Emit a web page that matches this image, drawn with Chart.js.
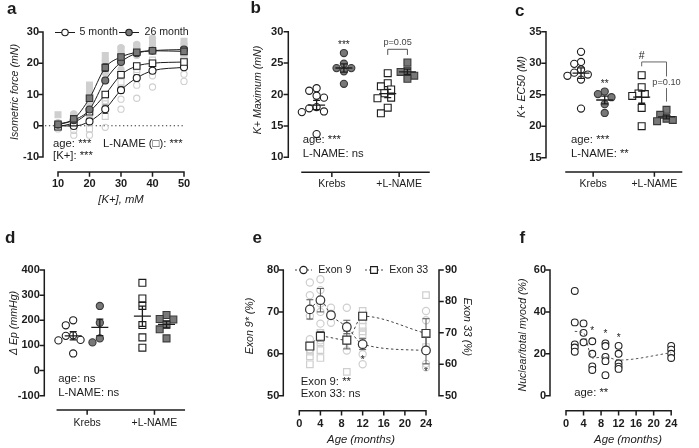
<!DOCTYPE html>
<html>
<head>
<meta charset="utf-8">
<title>Figure</title>
<script src="https://cdn.jsdelivr.net/npm/chart.js@4.4.1/dist/chart.umd.min.js"></script>
<style>
  html, body { margin: 0; padding: 0; background: #ffffff; }
  #fig { position: relative; width: 699px; height: 448px; overflow: hidden; background: #fff; }
  #fig canvas { position: absolute; left: 0; top: 0; }
</style>
</head>
<body>
<div id="fig">
  <canvas id="pa" width="699" height="448"></canvas>
  <canvas id="pb" width="699" height="448"></canvas>
  <canvas id="pc" width="699" height="448"></canvas>
  <canvas id="pd" width="699" height="448"></canvas>
  <canvas id="pe" width="699" height="448"></canvas>
  <canvas id="pf" width="699" height="448"></canvas>
</div>
<script>
// ================= DATA =================
// panel a : K+ concentration-response (means, SEM, individual points)
const aConc = [10, 15, 20, 25, 30, 35, 40, 50];
const a5Krebs = [0, -0.1, 1.4, 5.3, 11.4, 15.3, 17.6, 18.7];
const a5KrebsSem = [0.3, 0.3, 0.5, 1.3, 1.0, 1.0, 0.8, 0.6];
const a5LName = [-0.3, 1.0, 4.5, 10.0, 16.3, 19.1, 20.0, 20.4];
const a5LNameSem = [0.3, 0.4, 0.7, 0.9, 1.0, 0.8, 0.6, 0.6];
const a26Krebs = [0.3, 1.8, 5.2, 14.5, 20.4, 23.2, 24.0, 24.4];
const a26KrebsSem = [0.3, 0.5, 0.8, 1.0, 0.8, 0.6, 0.5, 0.6];
const a26LName = [0.5, 2.2, 8.8, 18.6, 22.0, 23.5, 24.0, 23.8];
const a26LNameSem = [0.3, 0.5, 0.9, 1.2, 0.8, 0.6, 0.6, 0.6];
const a26LNamePts = [[3.5], [3.3, 2.7], [13, 11], [22.5, 20], [24.5, 23], [25.5, 24.5], [27, 26], [27, 25.5]];
const a26KrebsPts = [[1.0], [3.8], [7, 10], [17, 21], [18, 25], [26, 22.5], [25.5, 28], [25, 23]];
const a5KrebsPts = [[-1, 0.5], [-1.5, -3], [-3, 3], [-0.5, 8], [5.3, 8.5], [8.8, 13], [12.4, 16], [14.2, 16.5]];
const a5LNamePts = [[-0.6], [0.6], [-1, 2], [3, 7], [14, 12], [17, 18], [20, 21], [21, 22]];

// panel b : K+ maximum (mN)
const bKrebs5 = [21.0, 20.6, 19.8, 19.5, 18.0, 17.8, 17.3, 17.2, 13.7];
const bKrebs26 = [26.6, 24.9, 24.2, 24.2, 23.7, 21.7];
const bLName5 = [23.4, 21.8, 21.3, 20.8, 20.2, 19.5, 19.4, 17.9, 17.0];
const bLName26 = [25.1, 23.8, 23.6, 23.0, 22.5];

// panel c : K+ EC50
const cKrebs5 = [31.8, 30.2, 29.9, 29.0, 28.5, 28.2, 28.0, 27.4, 22.8];
const cKrebs26 = [25.5, 25.1, 24.6, 23.5, 22.1];
const cLName5 = [28.1, 26.2, 25.2, 25.1, 24.8, 22.9, 20.0];
const cLName26 = [22.6, 21.8, 21.2, 21.0, 20.8];

// panel d : delta Ep (mmHg)
const dKrebs5 = [200, 180, 140, 138, 122, 120, 68];
const dKrebs26 = [257, 190, 128, 112];
const dLName5 = [349, 287, 257, 181, 132, 91];
const dLName26 = [221, 205, 203, 182, 164, 128];

// panel e : exon inclusion vs age
const eMonths = [2, 4, 6, 9, 12, 24];
const eExon9 = [70.6, 72.8, 69.2, 66.4, 62.3, 60.8];
const eExon9Sem = [2.3, 2.8, 0.8, 1.6, 1.3, 3.2];
const eMonths33 = [2, 4, 9, 12, 24];
const eExon33 = [65.8, 68.9, 67.7, 75.3, 69.8];
const eExon33Sem = [0.8, 1.5, 2.8, 1.0, 4.7];
const eExon9Pts = [[77, 74, 69, 63.5, 61], [77.8, 75.2, 72, 70, 67.2, 65, 63.2], [71, 69.6, 67.4], [71, 64, 63, 60.8], [62, 59.9, 57.5], [70.2, 68, 57.6, 56.8]];
const eExon33Pts = [[66, 64, 62.5, 60], [70, 67, 64.5, 62], [72, 57.6], [77, 75.5, 74, 72, 70.5, 69.5], [82, 70, 65.5]];

// panel f : nuclear / total myocd
const fMonths = [2, 4, 6, 9, 12, 24];
const fPoints = [[50, 35, 24.5, 23, 21], [34.5, 30, 25.5], [26, 20, 14, 12.3], [25, 23.7, 18.5, 16.5, 9.8], [23.8, 20, 15.5, 13.9, 12.8], [23.8, 22, 20, 18]];
const fMeans = [30.7, 30, 18, 18.5, 17, 20.5];

// labels
const catLabels = ['Krebs', '+L-NAME'];
const aLegend = ['5 month', '26 month'];
const eLegend = ['Exon 9', 'Exon 33'];

// ================= STYLE / LAYOUT =================
const W = 699, H = 448;
const YW = 50, RW = 45, XH = 40;   // scale box sizes
const FONT = '"Liberation Sans", Arial, "DejaVu Sans", sans-serif';
const INK = '#1c1c1c';
const DARK = '#787878';
const LIGHT = '#cfcfcf';
const CLEAR = 'rgba(255,255,255,0)';
const TICK = { family: FONT, size: 11, weight: 'bold' };
const CAT = { family: FONT, size: 10.5 };
const CIRC = 'circle', SQ = 'rect';

const A = { l: 58, t: 32, r: 184, b: 157 };
const B = { l: 302, t: 31.7, r: 429, b: 157.3 };
const C = { l: 566, t: 31.7, r: 691.7, b: 157.7 };
const D = { l: 57.3, t: 270, r: 184.3, b: 395.7 };
const E = { l: 299.3, t: 270, r: 426, b: 395.7, right: true };
const F = { l: 566, t: 270, r: 691.7, b: 395.7 };
const catTicks = [2.35, 7.65];
const bPos = [1.15, 3.3, 6.75, 8.3];
const cPos = [1.3, 3.35, 6.55, 8.7];
const dPos = [1.25, 3.35, 6.7, 8.6];

// ================= HELPERS =================
function mean(a) { return a.reduce((s, v) => s + v, 0) / a.length; }
function sem(a) {
  const m = mean(a);
  return Math.sqrt(a.reduce((s, v) => s + (v - m) * (v - m), 0) / (a.length - 1)) / Math.sqrt(a.length);
}
function pts(xs, ys) { return xs.map((x, i) => ({ x, y: ys[i] })); }
function nested(xs, arr) { return arr.flatMap((g, i) => g.map(v => ({ x: xs[i], y: v }))); }
function swarm(vals, cx, area, xRange, yRange, diam) {
  const xppu = (area.r - area.l) / xRange, yppu = (area.b - area.t) / yRange;
  const order = vals.map((v, i) => i).sort((p, q) => vals[q] - vals[p]);
  const placed = [], out = new Array(vals.length);
  for (const i of order) {
    const py = vals[i] * yppu;
    let off = 0;
    for (let k = 0; k < 40; k++) {
      off = k === 0 ? 0 : (k % 2 ? -1 : 1) * Math.ceil(k / 2) * diam * 0.45;
      if (placed.every(p => (p.x - off) ** 2 + (p.y - py) ** 2 >= diam * diam * 0.8)) break;
    }
    placed.push({ x: off, y: py });
    out[i] = { x: cx + off / xppu, y: vals[i] };
  }
  return out;
}
function ds(data, style, r, fill, extra) {
  return Object.assign({
    data, pointStyle: style, pointRadius: r, pointHoverRadius: r,
    pointBackgroundColor: fill, pointBorderColor: INK, pointBorderWidth: 1.1,
    borderColor: INK, borderWidth: 1, showLine: false, tension: 0.4,
    cubicInterpolationMode: 'monotone', clip: false
  }, extra || {});
}
function fontStr(size, weight, style) { return (style || 'normal') + ' ' + (weight || 'normal') + ' ' + size + 'px ' + FONT; }
function text(ctx, s, x, y, o) {
  o = o || {};
  ctx.save();
  ctx.font = fontStr(o.size || 11.3, o.weight, o.style);
  ctx.fillStyle = o.color || INK;
  ctx.textAlign = o.align || 'left';
  ctx.textBaseline = o.base || 'middle';
  ctx.translate(x, y);
  if (o.rot) ctx.rotate(o.rot);
  ctx.fillText(s, 0, 0);
  ctx.restore();
}
function stars(ctx, s, x, y, size) {
  size = size || 10;
  text(ctx, s, x, y + 0.58 * size, { size, align: 'center', base: 'alphabetic' });
}
function letter(ctx, s, x, y) { text(ctx, s, x, y, { size: 17, weight: 'bold', base: 'alphabetic' }); }
function ytitle(ctx, s, x, y, rot) { text(ctx, s, x, y, { size: 10.6, style: 'italic', align: 'center', rot: rot || -Math.PI / 2 }); }
function xtitle(ctx, s, x, y) { text(ctx, s, x, y, { size: 11.3, style: 'italic', align: 'center' }); }
function marker(ctx, style, x, y, r, fill, stroke, lw) {
  ctx.save(); ctx.beginPath();
  if (style === SQ) { const s = r * Math.SQRT1_2; ctx.rect(x - s, y - s, 2 * s, 2 * s); }
  else ctx.arc(x, y, r, 0, Math.PI * 2);
  ctx.fillStyle = fill; ctx.fill(); ctx.lineWidth = lw; ctx.strokeStyle = stroke; ctx.stroke();
  ctx.restore();
}
function legendItem(ctx, x0, x1, y, style, r, fill, dash, color) {
  ctx.save(); ctx.strokeStyle = color || INK; ctx.lineWidth = 1;
  if (dash) ctx.setLineDash(dash);
  ctx.beginPath(); ctx.moveTo(x0, y); ctx.lineTo(x1, y); ctx.stroke(); ctx.restore();
  marker(ctx, style, (x0 + x1) / 2, y, r, fill, INK, 1.1);
}
function seg(ctx, pairs, lw, color) {
  ctx.save(); ctx.strokeStyle = color || INK; ctx.lineWidth = lw || 1; ctx.beginPath();
  pairs.forEach(p => { ctx.moveTo(p[0], p[1]); ctx.lineTo(p[2], p[3]); });
  ctx.stroke(); ctx.restore();
}
function drawAxes(c, ctx, o) {
  const xs = c.scales.x, ys = c.scales.y, ca = c.chartArea;
  ctx.save();
  ctx.strokeStyle = INK; ctx.lineWidth = 1.5; ctx.lineCap = 'square';
  ctx.beginPath();
  const yx = ca.left - o.yGap;
  ctx.moveTo(yx, ys.getPixelForValue(ys.max)); ctx.lineTo(yx, ys.getPixelForValue(ys.min));
  ys.ticks.forEach(t => { const p = ys.getPixelForValue(t.value); ctx.moveTo(yx, p); ctx.lineTo(yx - 4, p); });
  if (o.rId) {
    const rs = c.scales[o.rId], rx = ca.right + o.rGap;
    ctx.moveTo(rx, rs.getPixelForValue(rs.max)); ctx.lineTo(rx, rs.getPixelForValue(rs.min));
    rs.ticks.forEach(t => { const p = rs.getPixelForValue(t.value); ctx.moveTo(rx, p); ctx.lineTo(rx + 4, p); });
  }
  const xy = ca.bottom + o.xGap;
  ctx.moveTo(xs.getPixelForValue(xs.min), xy); ctx.lineTo(xs.getPixelForValue(xs.max), xy);
  xs.ticks.forEach(t => { const p = xs.getPixelForValue(t.value); ctx.moveTo(p, xy); ctx.lineTo(p, xy + 4); });
  ctx.stroke(); ctx.restore();
}
function errBars(c, ctx, i) {
  const d = c.data.datasets[i];
  if (!d.errs) return;
  const meta = c.getDatasetMeta(i);
  const xs = c.scales[meta.xAxisID], ys = c.scales[meta.yAxisID];
  const cap = d.capW || 2.6;
  ctx.save(); ctx.strokeStyle = d.errColor || INK; ctx.lineWidth = 1; ctx.beginPath();
  d.data.forEach((p, k) => {
    const e = d.errs[k], px = xs.getPixelForValue(p.x);
    const y1 = ys.getPixelForValue(p.y + e), y2 = ys.getPixelForValue(p.y - e);
    ctx.moveTo(px, y1); ctx.lineTo(px, y2);
    ctx.moveTo(px - cap, y1); ctx.lineTo(px + cap, y1);
    ctx.moveTo(px - cap, y2); ctx.lineTo(px + cap, y2);
  });
  ctx.stroke(); ctx.restore();
}
function meanBar(c, ctx, cx, vals) {
  const xs = c.scales.x, ys = c.scales.y;
  const m = mean(vals), e = sem(vals), px = xs.getPixelForValue(cx);
  const pm = ys.getPixelForValue(m), pu = ys.getPixelForValue(m + e), pd = ys.getPixelForValue(m - e);
  seg(ctx, [[px - 8.5, pm, px + 8.5, pm], [px, pu, px, pd], [px - 3.5, pu, px + 3.5, pu], [px - 3.5, pd, px + 3.5, pd]], 1.3);
}
function xLinear(min, max, step, pad, font) {
  return {
    type: 'linear', position: 'bottom', min, max,
    afterFit(s) { s.height = XH; },
    grid: { display: false, drawTicks: false }, border: { display: false },
    ticks: { stepSize: step, padding: pad, font: font || TICK, color: INK, autoSkip: false, maxRotation: 0, minRotation: 0 }
  };
}
function xGroups(pad) {
  const s = xLinear(0, 10, 1, pad, CAT);
  s.afterBuildTicks = sc => { sc.ticks = catTicks.map(v => ({ value: v })); };
  s.ticks.callback = (v, i) => catLabels[i];
  return s;
}
function yLinear(min, max, step, pad, position) {
  const right = position === 'right';
  return {
    type: 'linear', position: position || 'left', min, max,
    afterFit(s) { s.width = right ? RW : YW; },
    grid: { display: false, drawTicks: false }, border: { display: false },
    ticks: { stepSize: step, padding: pad, font: TICK, color: INK }
  };
}
function makeChart(id, area, scales, datasets, hooks) {
  hooks = hooks || {};
  return new Chart(document.getElementById(id), {
    type: 'scatter',
    data: { datasets },
    options: {
      responsive: false, maintainAspectRatio: false, animation: false, events: [],
      layout: { autoPadding: false, padding: {
        left: area.l - YW, top: area.t,
        right: W - area.r - (area.right ? RW : 0), bottom: H - area.b - XH } },
      scales,
      plugins: { legend: { display: false }, tooltip: { enabled: false } }
    },
    plugins: [{
      id: 'deco_' + id,
      beforeDatasetsDraw(c) { if (hooks.under) hooks.under(c, c.ctx); },
      beforeDatasetDraw(c, args) { errBars(c, c.ctx, args.index); },
      afterDatasetsDraw(c) { if (hooks.over) hooks.over(c, c.ctx); }
    }]
  });
}
function groupSets(sets, pos, area, yRange) {
  const styles = [[CIRC, '#fff'], [CIRC, DARK], [SQ, '#fff'], [SQ, DARK]];
  return sets.map((v, i) => {
    const st = styles[i];
    const r = st[0] === CIRC ? 3.6 : 4.9;
    return ds(swarm(v, pos[i], area, 10, yRange, st[0] === CIRC ? 8.2 : 7.6), st[0], r, st[1], { pointBorderColor: st[1] === DARK ? '#3a3a3a' : INK });
  });
}

// ================= PANEL a =================
makeChart('pa', A, { x: xLinear(10, 50, 10, 20.4), y: yLinear(-10, 30, 10, 19) }, [
  ds(pts(aConc, a26LName), SQ, 4.6, DARK, { showLine: true, errs: a26LNameSem, pointBorderColor: '#333' }),
  ds(pts(aConc, a26Krebs), CIRC, 3.5, DARK, { showLine: true, errs: a26KrebsSem, pointBorderColor: '#333' }),
  ds(pts(aConc, a5LName), SQ, 4.6, '#fff', { showLine: true, errs: a5LNameSem }),
  ds(pts(aConc, a5Krebs), CIRC, 3.5, '#fff', { showLine: true, errs: a5KrebsSem }),
  ds(nested(aConc, a26LNamePts), SQ, 4.2, LIGHT, { pointBorderColor: LIGHT }),
  ds(nested(aConc, a26KrebsPts), CIRC, 3.1, LIGHT, { pointBorderColor: LIGHT }),
  ds(nested(aConc, a5LNamePts), SQ, 4.2, CLEAR, { pointBorderColor: LIGHT }),
  ds(nested(aConc, a5KrebsPts), CIRC, 3.1, CLEAR, { pointBorderColor: LIGHT })
], {
  under(c, ctx) {
    const y0 = c.scales.y.getPixelForValue(0);
    ctx.save(); ctx.strokeStyle = '#333'; ctx.lineWidth = 1.2; ctx.setLineDash([1.3, 2.6]);
    ctx.beginPath(); ctx.moveTo(c.chartArea.left - 13, y0); ctx.lineTo(c.chartArea.right, y0); ctx.stroke(); ctx.restore();
  },
  over(c, ctx) {
    drawAxes(c, ctx, { yGap: 15, xGap: 15 });
    const ly = c.chartArea.top + 0.5;
    legendItem(ctx, 55, 75, ly, CIRC, 3.2, '#fff');
    text(ctx, aLegend[0], 79.5, ly, { size: 10.6 });
    legendItem(ctx, 119, 139, ly, CIRC, 3.2, DARK);
    text(ctx, aLegend[1], 144.5, ly, { size: 10.6 });
    text(ctx, 'age: ***', 53, 144);
    text(ctx, 'L-NAME (\u25A1): ***', 103, 144);
    text(ctx, '[K+]: ***', 53, 156);
    ytitle(ctx, 'Isometric force (mN)', 15, 92);
    xtitle(ctx, '[K+], mM', 121, 200);
    letter(ctx, 'a', 7, 14);
  }
});

// ================= PANEL b =================
makeChart('pb', B, { x: xGroups(21), y: yLinear(10, 30, 5, 18.7) },
  groupSets([bKrebs5, bKrebs26, bLName5, bLName26], bPos, B, 20), {
  over(c, ctx) {
    const xs = c.scales.x, ys = c.scales.y;
    [bKrebs5, bKrebs26, bLName5, bLName26].forEach((v, i) => meanBar(c, ctx, bPos[i], v));
    drawAxes(c, ctx, { yGap: 13.7, xGap: 15 });
    stars(ctx, '***', xs.getPixelForValue(bPos[1]), ys.getPixelForValue(28.25), 10);
    const xl = xs.getPixelForValue(bPos[2]), xr = xs.getPixelForValue(bPos[3]);
    const yt = ys.getPixelForValue(27.2), yb = ys.getPixelForValue(26.3);
    seg(ctx, [[xl, yb, xl, yt], [xl, yt, xr, yt], [xr, yt, xr, yb]], 1, '#555');
    text(ctx, 'p=0.05', (xl + xr) / 2, ys.getPixelForValue(28.25), { size: 9.2, align: 'center', color: '#444' });
    text(ctx, 'age: ***', 302.7, 140);
    text(ctx, 'L-NAME: ns', 302.7, 154);
    ytitle(ctx, 'K+ Maximum (mN)', 258, 90);
    letter(ctx, 'b', 250.5, 13.3);
  }
});

// ================= PANEL c =================
makeChart('pc', C, { x: xGroups(20), y: yLinear(15, 35, 5, 24.5) },
  groupSets([cKrebs5, cKrebs26, cLName5, cLName26], cPos, C, 20), {
  over(c, ctx) {
    const xs = c.scales.x, ys = c.scales.y;
    [cKrebs5, cKrebs26, cLName5, cLName26].forEach((v, i) => meanBar(c, ctx, cPos[i], v));
    drawAxes(c, ctx, { yGap: 20, xGap: 14.3 });
    stars(ctx, '**', xs.getPixelForValue(cPos[1]), ys.getPixelForValue(27.2), 10);
    const xl = xs.getPixelForValue(cPos[2]), xr = xs.getPixelForValue(cPos[3]);
    const yt = ys.getPixelForValue(30.2);
    seg(ctx, [[xl, ys.getPixelForValue(29.5), xl, yt], [xl, yt, xr, yt], [xr, yt, xr, ys.getPixelForValue(27.9)],
      [xr, ys.getPixelForValue(26.05), xr, ys.getPixelForValue(23.9)]], 1, '#666');
    text(ctx, 'p=0.10', xr, ys.getPixelForValue(26.95), { size: 9.2, align: 'center', color: '#444' });
    text(ctx, '#', xl, ys.getPixelForValue(31.05), { size: 10.5, align: 'center' });
    text(ctx, 'age: ***', 571, 140);
    text(ctx, 'L-NAME: **', 571, 154.3);
    ytitle(ctx, 'K+ EC50 (M)', 522, 87);
    letter(ctx, 'c', 515, 16);
  }
});

// ================= PANEL d =================
makeChart('pd', D, { x: xGroups(20.7), y: yLinear(-100, 400, 100, 17.5) },
  groupSets([dKrebs5, dKrebs26, dLName5, dLName26], dPos, D, 500), {
  over(c, ctx) {
    [dKrebs5, dKrebs26, dLName5, dLName26].forEach((v, i) => meanBar(c, ctx, dPos[i], v));
    drawAxes(c, ctx, { yGap: 13, xGap: 14.3 });
    text(ctx, 'age: ns', 58.3, 379.3);
    text(ctx, 'L-NAME: ns', 58.3, 392.7);
    ytitle(ctx, '\u0394 Ep (mmHg)', 14, 323);
    letter(ctx, 'd', 5, 242.7);
  }
});

// ================= PANEL e =================
makeChart('pe', E, {
  x: xLinear(0, 24, 4, 21.7),
  y: yLinear(50, 80, 10, 20),
  y2: yLinear(50, 90, 10, 19, 'right')
}, [
  ds(pts(eMonths, eExon9), CIRC, 4.3, '#fff', { showLine: true, tension: 0, borderDash: [2.5, 2.5], borderColor: '#444', errs: eExon9Sem, errColor: '#555', capW: 3.5, pointBorderColor: '#333', pointBorderWidth: 1.2 }),
  ds(pts(eMonths33, eExon33), SQ, 5.6, '#fff', { yAxisID: 'y2', showLine: true, tension: 0, borderDash: [2.5, 2.5], borderColor: '#444', errs: eExon33Sem, errColor: '#555', capW: 3.5, pointBorderColor: '#333', pointBorderWidth: 1.2 }),
  ds(nested(eMonths, eExon9Pts), CIRC, 3.6, CLEAR, { pointBorderColor: LIGHT, pointBorderWidth: 1.2 }),
  ds(nested(eMonths33, eExon33Pts), SQ, 4.6, CLEAR, { yAxisID: 'y2', pointBorderColor: LIGHT, pointBorderWidth: 1.2 })
], {
  over(c, ctx) {
    const xs = c.scales.x, ys = c.scales.y;
    drawAxes(c, ctx, { yGap: 16, xGap: 15, rId: 'y2', rGap: 13 });
    stars(ctx, '*', xs.getPixelForValue(12), ys.getPixelForValue(59.2), 10);
    stars(ctx, '*', xs.getPixelForValue(24), ys.getPixelForValue(56.4), 10);
    const ly = c.chartArea.top;
    legendItem(ctx, 295, 312, ly, CIRC, 3.6, '#fff', [2, 2], '#444');
    text(ctx, eLegend[0], 318.3, ly, { size: 10.6 });
    legendItem(ctx, 365, 383, ly, SQ, 4.8, '#fff', [2, 2], '#444');
    text(ctx, eLegend[1], 389.3, ly, { size: 10.6 });
    text(ctx, 'Exon 9: **', 300.7, 381.7);
    text(ctx, 'Exon 33: ns', 300.7, 394.3);
    ytitle(ctx, 'Exon 9* (%)', 250, 326);
    ytitle(ctx, 'Exon 33 (%)', 467, 327, Math.PI / 2);
    xtitle(ctx, 'Age (months)', 361, 440);
    letter(ctx, 'e', 252.5, 242.7);
  }
});

// ================= PANEL f =================
makeChart('pf', F, { x: xLinear(0, 24, 4, 21.7), y: yLinear(0, 60, 20, 20) }, [
  ds(pts(fMonths, fMeans), CIRC, 0, CLEAR, { showLine: true, tension: 0, borderDash: [2.5, 2.5], borderColor: '#555' }),
  ds(nested(fMonths, fPoints), CIRC, 3.4, '#fff', { pointBorderColor: '#222', pointBorderWidth: 1.1 })
], {
  over(c, ctx) {
    const xs = c.scales.x, ys = c.scales.y;
    drawAxes(c, ctx, { yGap: 16, xGap: 15 });
    [[6, 32.3], [9, 30.7], [12, 29.1]].forEach(p => stars(ctx, '*', xs.getPixelForValue(p[0]), ys.getPixelForValue(p[1]), 10));
    text(ctx, 'age: **', 574.3, 393.3);
    ytitle(ctx, 'Nuclear/total myocd (%)', 523, 335);
    xtitle(ctx, 'Age (months)', 628, 440);
    letter(ctx, 'f', 519.5, 242.7);
  }
});
</script>
</body>
</html>
